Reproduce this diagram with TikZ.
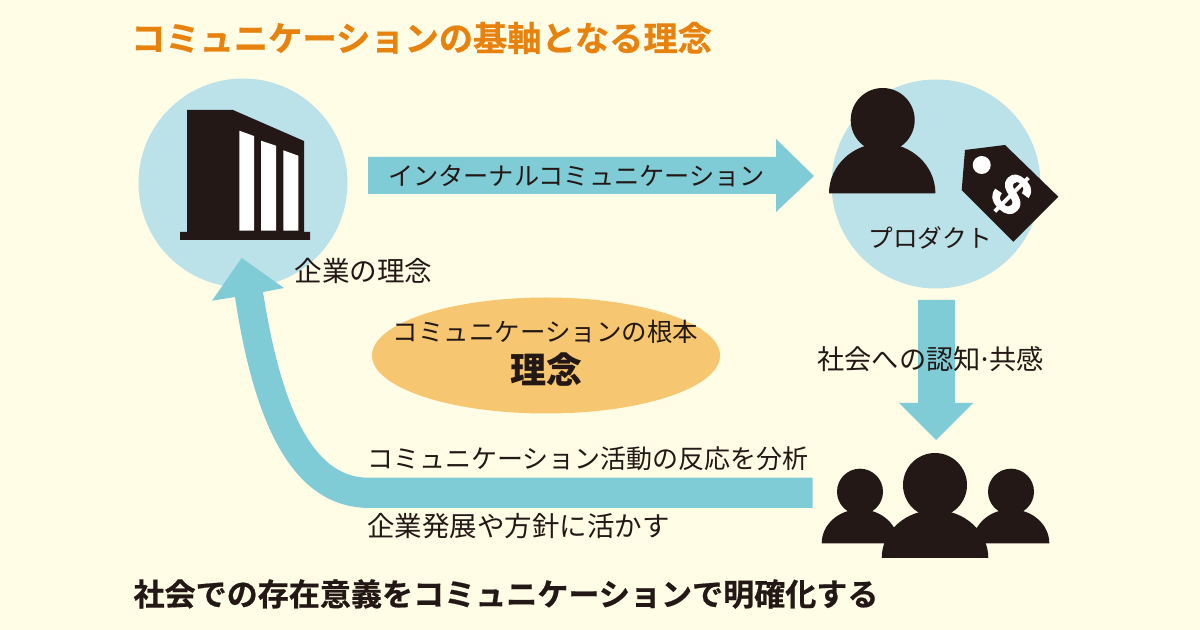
\documentclass[tikz,border=0pt]{standalone}
\usepackage{fontspec}
\setmainfont{Noto Sans CJK JP}
\newfontfamily\heavyfont{Noto Sans CJK JP Bold}[FakeBold=0.6]
\newfontfamily\dollarfont{Liberation Sans Bold}[FakeBold=1.5]
\definecolor{bgc}{HTML}{FFFDE6}
\definecolor{circ}{HTML}{BBE1E9}
\definecolor{arrowc}{HTML}{7FCCD6}
\definecolor{ell}{HTML}{F6C770}
\definecolor{ttl}{HTML}{E8820E}
\definecolor{ink}{HTML}{231815}
\newcommand{\fs}[1]{\fontsize{#1}{#1}\selectfont}
\tikzset{
  lbl/.style={inner sep=0pt,outer sep=0pt,text=ink,anchor=center},
  bigarrow/.style={fill=arrowc,draw=none},
  blk/.style={fill=ink,draw=none}
}
\begin{document}
\begin{tikzpicture}[x=0.75pt,y=-0.75pt]
\useasboundingbox (0,0) rectangle (1200,630);
\fill[bgc] (0,0) rectangle (1200,630);
% circles
\fill[circ] (243,183) circle[radius=104.5];
\fill[circ] (936,184) circle[radius=104.5];
\fill[ell] (546,355.5) ellipse[x radius=174,y radius=58];
% top arrow
\fill[bigarrow] (368,157) -- (776,157) -- (776,139) -- (814,176) -- (776,212) -- (776,194) -- (368,194) -- cycle;
% down arrow
\fill[bigarrow] (918,300) -- (955,300) -- (955,403) -- (973,403) -- (936,440) -- (899,403) -- (918,403) -- cycle;
% return arrow
\fill[bigarrow] (812.5,477.7) -- (368,477.7)
  .. controls (310,477.7) and (280,400) .. (263,292)
  -- (284,288) -- (241.7,258) -- (212,300.7) -- (235,297)
  .. controls (255,430) and (295,508) .. (370,508)
  -- (812.5,508) -- cycle;
% building
\fill[blk] (187,110) -- (233,110) -- (304,141) -- (304,232) -- (310,232) -- (310,240) -- (180,240) -- (180,232) -- (187,232) -- cycle;
\fill[white] (239.3,130.7) -- (254,136) -- (254,230.7) -- (239.3,230.7) -- cycle;
\fill[white] (261,140.7) -- (276,145.7) -- (276,230.7) -- (261,230.7) -- cycle;
\fill[white] (283.3,150.3) -- (298.3,155.7) -- (298.3,230.7) -- (283.3,230.7) -- cycle;
% person
\fill[blk] (882.7,120) circle[radius=32];
\fill[blk] (829,193.3) arc[start angle=180,end angle=360,x radius=53.2,y radius=50] -- cycle;
% tag
\fill[blk] (965,150) -- (1005,145) -- (1058.3,196.7) -- (1013.3,241.7) -- (961.7,190) -- cycle;
\fill[white] (981.7,165) circle[radius=9];
\node[lbl,text=white,rotate=-45] (dollar) at (1011.5,194.5) {\dollarfont\fs{43}\$};
% group
\fill[blk] (860,491.7) circle[radius=23];
\fill[blk] (821.7,543.3) arc[start angle=180,end angle=360,x radius=38.3,y radius=34] -- cycle;
\fill[blk] (1011,491.7) circle[radius=23];
\fill[blk] (972.7,543.3) arc[start angle=180,end angle=360,x radius=38.3,y radius=34] -- cycle;
\fill[blk] (935,485) circle[radius=32];
\fill[blk] (881.7,558) arc[start angle=180,end angle=360,x radius=53.3,y radius=48] -- cycle;
% texts
\node[lbl,text=ttl] (title) at (421.5,38) {\heavyfont\fs{25.7}コミュニケーションの基軸となる理念};
\node[lbl] (t1) at (576.5,175.5) {\fs{18.9}インターナルコミュニケーション};
\node[lbl] (t2) at (363.5,270.5) {\fs{20.7}企業の理念};
\node[lbl] (t3) at (930,237.5) {\fs{18.5}プロダクト};
\node[lbl] (t4) at (545.5,332) {\fs{19.1}コミュニケーションの根本};
\node[lbl] (t5) at (546,370) {\bfseries\fs{27}理念};
\node[lbl] (t6) at (930.5,359.5) {\fs{20.4}社会への認知\kern-2.5pt·\kern-2.5pt共感};
\node[lbl] (t7) at (588,459) {\fs{19.5}コミュニケーション活動の反応を分析};
\node[lbl] (t8) at (518.5,526.5) {\fs{20.6}企業発展や方針に活かす};
\node[lbl] (t9) at (506,594) {\heavyfont\fs{23.3}社会での存在意義をコミュニケーションで明確化する};
\end{tikzpicture}
\end{document}
